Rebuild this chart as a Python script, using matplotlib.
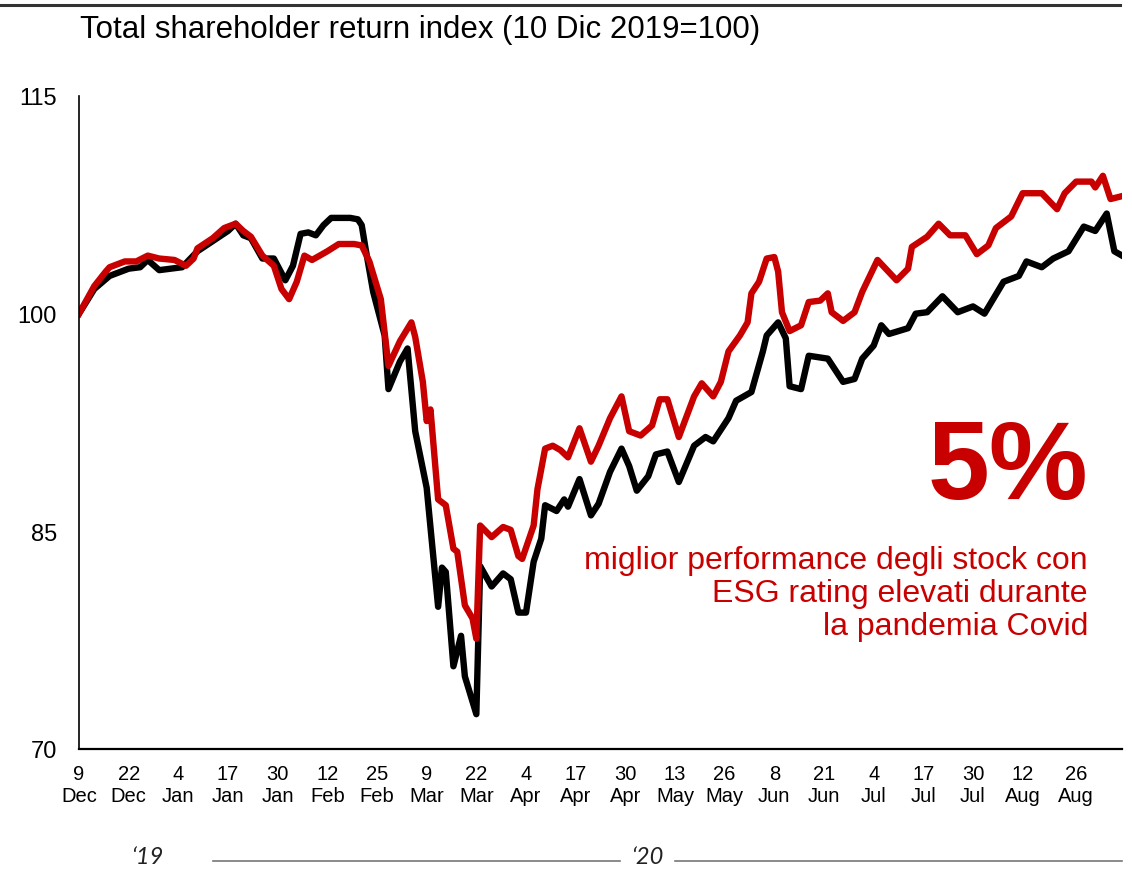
import datetime as dt
import matplotlib
matplotlib.use('Agg')
import matplotlib.pyplot as plt

# Index values (days after 9 Dec 2019, index level)
start = dt.date(2019, 12, 9)

black_days = [0, 4, 8, 13, 16, 18, 21, 24, 27, 31, 35, 39, 41, 43, 45, 48, 51, 52, 54, 56,
              58, 60, 62, 64, 66, 71, 73, 74, 75, 77, 80, 81, 84, 86, 88, 91, 94, 95, 96, 98,
              100, 101, 104, 105, 108, 111, 113, 115, 117, 119, 121, 122, 125, 127, 128, 131,
              134, 136, 139, 142, 144, 146, 149, 151, 154, 157, 161, 164, 166, 170, 172, 176,
              179, 180, 183, 185, 186, 189, 191, 196, 200, 203, 205, 208, 210, 212, 217, 219,
              222, 226, 230, 234, 237, 242, 246, 248, 252, 255, 259, 263, 266, 269, 271, 273]
black_vals = [100.0, 101.7, 102.6, 103.1, 103.2, 103.7, 103.0, 103.1, 103.2, 104.3, 105.0, 105.7,
              106.2, 105.4, 105.2, 103.8, 103.8, 103.3, 102.3, 103.3, 105.5, 105.6, 105.4, 106.1,
              106.6, 106.6, 106.5, 106.1, 104.5, 101.5, 98.5, 94.8, 96.7, 97.6, 91.9, 88.0, 79.8,
              82.5, 82.2, 75.7, 77.8, 75.0, 72.4, 82.6, 81.2, 82.1, 81.7, 79.4, 79.4, 82.9, 84.5,
              86.8, 86.4, 87.2, 86.7, 88.6, 86.1, 86.9, 89.1, 90.7, 89.5, 87.8, 88.8, 90.3, 90.5,
              88.4, 90.9, 91.5, 91.2, 92.8, 94.0, 94.6, 97.4, 98.5, 99.4, 98.3, 95.0, 94.8, 97.1,
              96.9, 95.3, 95.5, 96.9, 97.8, 99.2, 98.6, 99.0, 100.0, 100.1, 101.2, 100.1, 100.5,
              100.0, 102.2, 102.6, 103.6, 103.2, 103.8, 104.3, 106.0, 105.7, 106.9, 104.3, 104.0]

red_days = [0, 4, 7, 8, 12, 15, 18, 21, 25, 28, 30, 31, 35, 38, 41, 43, 45, 48, 51, 53, 55, 57,
            59, 61, 65, 68, 72, 74, 76, 79, 81, 84, 87, 88, 90, 91, 92, 94, 96, 98, 99, 101, 103,
            104, 105, 108, 111, 113, 115, 116, 119, 120, 122, 124, 126, 128, 131, 134, 136, 139,
            142, 144, 147, 150, 152, 154, 157, 161, 163, 166, 168, 170, 173, 175, 176, 178, 180,
            182, 183, 184, 186, 189, 191, 194, 196, 197, 200, 203, 205, 209, 214, 217, 218, 222,
            225, 228, 232, 235, 238, 240, 244, 247, 252, 256, 258, 261, 265, 266, 268, 270, 273]
red_vals = [100.0, 101.9, 102.9, 103.2, 103.6, 103.6, 104.0, 103.8, 103.7, 103.3, 103.8, 104.5,
            105.2, 105.9, 106.2, 105.7, 105.3, 104.0, 103.3, 101.7, 101.0, 102.2, 104.0, 103.7,
            104.3, 104.8, 104.8, 104.7, 103.6, 101.0, 96.4, 98.1, 99.4, 98.4, 95.3, 92.6, 93.4,
            87.2, 86.8, 83.8, 83.6, 79.9, 79.0, 77.6, 85.4, 84.6, 85.3, 85.1, 83.3, 83.1, 85.4,
            87.9, 90.7, 90.9, 90.6, 90.1, 92.1, 89.8, 90.9, 92.8, 94.3, 91.9, 91.6, 92.3, 94.1,
            94.1, 91.5, 94.3, 95.2, 94.3, 95.3, 97.4, 98.5, 99.4, 101.4, 102.2, 103.8, 103.9,
            102.9, 100.1, 98.8, 99.2, 100.8, 100.9, 101.4, 100.1, 99.5, 100.1, 101.5, 103.7,
            102.3, 103.1, 104.6, 105.3, 106.2, 105.4, 105.4, 104.1, 104.7, 105.9, 106.7, 108.3,
            108.3, 107.2, 108.3, 109.1, 109.1, 108.7, 109.5, 107.9, 108.1]

tick_labels = ['9\nDec', '22\nDec', '4\nJan', '17\nJan', '30\nJan', '12\nFeb', '25\nFeb',
               '9\nMar', '22\nMar', '4\nApr', '17\nApr', '30\nApr', '13\nMay', '26\nMay',
               '8\nJun', '21\nJun', '4\nJul', '17\nJul', '30\nJul', '12\nAug', '26\nAug']
tick_days = [0, 13, 26, 39, 52, 65, 78, 91, 104, 117, 130, 143, 156, 169, 182, 195, 208,
             221, 234, 247, 261]

RED = '#C80000'
plt.rcParams['font.family'] = ['Liberation Sans', 'DejaVu Sans']

def to_dates(days):
    return [start + dt.timedelta(days=d) for d in days]

fig = plt.figure(figsize=(11.32, 8.7), dpi=100)
ax = fig.add_axes([79 / 1132, 1 - 750 / 870, (1122 - 79) / 1132, (750 - 97) / 870])

ax.plot(to_dates(black_days), black_vals, color='black', lw=4.6, solid_joinstyle='round')
ax.plot(to_dates(red_days), red_vals, color=RED, lw=4.6, solid_joinstyle='round')

ax.set_ylim(70, 115)
ax.set_yticks([70, 85, 100, 115])
ax.set_xlim(start, start + dt.timedelta(days=273))
ax.set_xticks(to_dates(tick_days))
ax.set_xticklabels(tick_labels, fontsize=14.5, linespacing=1.15)
ax.tick_params(axis='both', length=0)
ax.tick_params(axis='x', pad=11)
ax.tick_params(axis='y', pad=16)
for lab in ax.get_yticklabels():
    lab.set_fontsize(17)
ax.spines['top'].set_visible(False)
ax.spines['right'].set_visible(False)
ax.spines['left'].set_linewidth(1.2)
ax.spines['bottom'].set_linewidth(1.6)

# title and top rule
fig.add_artist(plt.Line2D([0, 1120 / 1132], [1 - 6 / 870, 1 - 6 / 870], color='#333333', lw=2.2))
fig.text(80 / 1132, 1 - 30 / 870, 'Total shareholder return index (10 Dic 2019=100)',
         fontsize=22.5, va='center', ha='left')

# callout
fig.text(1088 / 1132, 1 - 470 / 870, '5%', color=RED, fontsize=80, fontweight='bold',
         ha='right', va='center')
fig.text(1088 / 1132, 1 - 594 / 870,
         'miglior performance degli stock con\nESG rating elevati durante\nla pandemia Covid',
         color=RED, fontsize=23, ha='right', va='center', linespacing=1.15)

# year labels at the bottom
fig.text(147 / 1132, 1 - 858 / 870, '\u201819', fontsize=17, style='italic', color='#222222',
         ha='center', va='center', family=['Lato', 'DejaVu Sans'])
fig.text(647 / 1132, 1 - 858 / 870, '\u201820', fontsize=17, style='italic', color='#222222',
         ha='center', va='center', family=['Lato', 'DejaVu Sans'])
fig.add_artist(plt.Line2D([213 / 1132, 620 / 1132], [1 - 862 / 870, 1 - 862 / 870],
                          color='#777777', lw=1.2))
fig.add_artist(plt.Line2D([675 / 1132, 1122 / 1132], [1 - 862 / 870, 1 - 862 / 870],
                          color='#777777', lw=1.2))

fig.savefig('out.png', dpi=100)
